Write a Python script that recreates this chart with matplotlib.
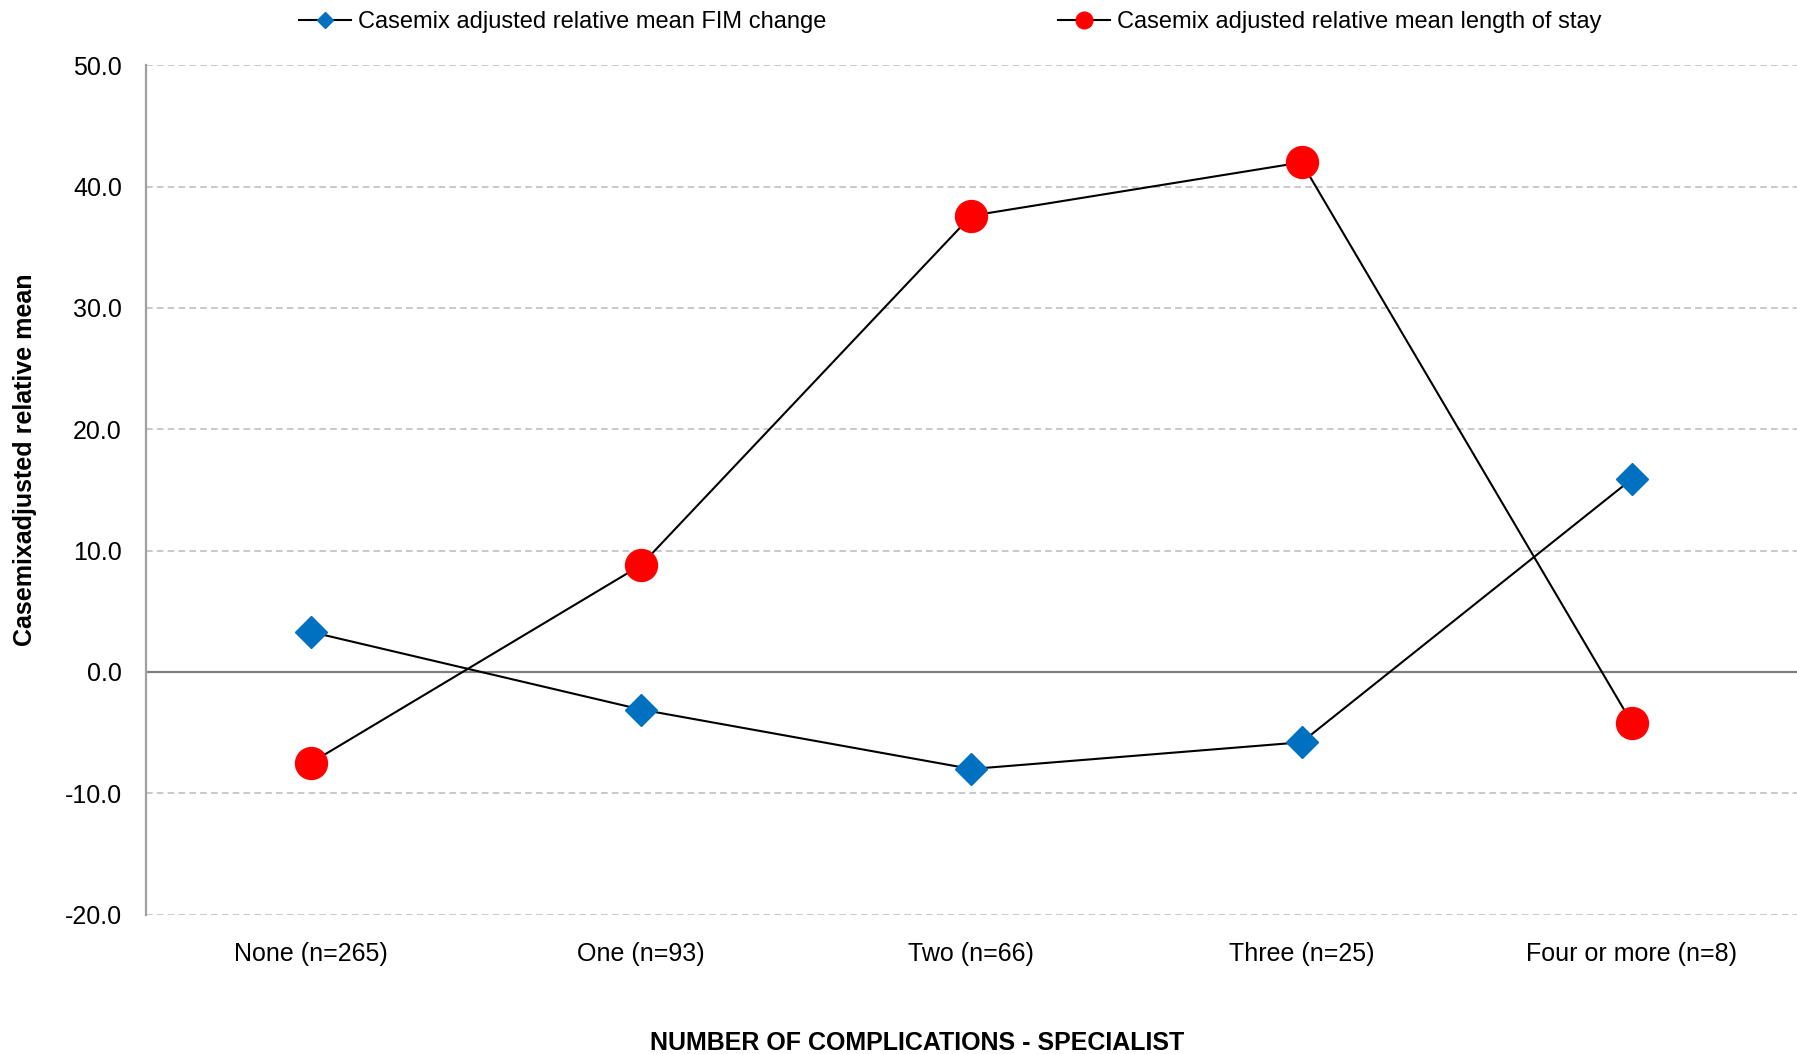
import matplotlib
matplotlib.use("Agg")
import matplotlib.pyplot as plt
from matplotlib.lines import Line2D

categories = ["None (n=265)", "One (n=93)", "Two (n=66)", "Three (n=25)", "Four or more (n=8)"]
fim_change = [3.3, -3.1, -8.0, -5.8, 15.9]
length_of_stay = [-7.5, 8.8, 37.6, 42.0, -4.2]
yticks = [-20, -10, 0, 10, 20, 30, 40, 50]

narrow = ["Liberation Sans Narrow", "Liberation Sans", "DejaVu Sans"]
regular = ["Liberation Sans", "DejaVu Sans"]

fig = plt.figure(figsize=(17.97, 10.54), dpi=100)
ax = fig.add_axes([0.081, 0.1323, 0.919, 0.8057])

x = list(range(len(categories)))
ax.plot(x, fim_change, color="black", lw=1.5, marker="D", ms=16.5,
        mfc="#0070c0", mec="#0070c0", zorder=3)
ax.plot(x, length_of_stay, color="black", lw=1.5, marker="o", ms=23,
        mfc="#ff0000", mec="#ff0000", zorder=3)

ax.set_xlim(-0.5, len(categories) - 0.5)
ax.set_ylim(-20, 50)
ax.set_yticks(yticks)
ax.set_yticklabels(["%.1f" % v for v in yticks], family=regular, fontsize=18)
ax.set_xticks(x)
ax.set_xticklabels(categories, family=narrow, fontsize=18)
ax.tick_params(axis="both", length=0)
ax.tick_params(axis="y", pad=17)
ax.tick_params(axis="x", pad=20)

for v in yticks:
    if v == 0:
        ax.axhline(v, color="#808080", lw=1.6, zorder=1)
    else:
        ax.axhline(v, color="#c0c0c0", lw=1.2, ls=(0, (4, 2.5)), zorder=1)

for s in ["top", "right", "bottom"]:
    ax.spines[s].set_visible(False)
ax.spines["left"].set_color("#a0a0a0")
ax.spines["left"].set_linewidth(1.6)

ax.set_ylabel("Casemixadjusted relative mean", family=narrow, fontsize=18,
              fontweight="bold")
ax.yaxis.set_label_coords(-0.066, 0.536)
ax.set_xlabel("NUMBER OF COMPLICATIONS - SPECIALIST", family=narrow, fontsize=18,
              fontweight="bold")
ax.xaxis.set_label_coords(0.467, -0.137)

handles = [
    Line2D([], [], color="black", lw=1.5, marker="D", ms=8, mfc="#0070c0", mec="#0070c0"),
    Line2D([], [], color="black", lw=1.5, marker="o", ms=12, mfc="#ff0000", mec="#ff0000"),
]
labels = ["Casemix adjusted relative mean FIM change",
          "Casemix adjusted relative mean length of stay"]
fig.legend(handles, labels, loc="center", bbox_to_anchor=(0.529, 0.979), ncol=2,
           frameon=False, prop={"family": narrow, "size": 17},
           handlelength=2.2, handletextpad=0.3, columnspacing=9.8)

fig.savefig("out.png", dpi=100)
